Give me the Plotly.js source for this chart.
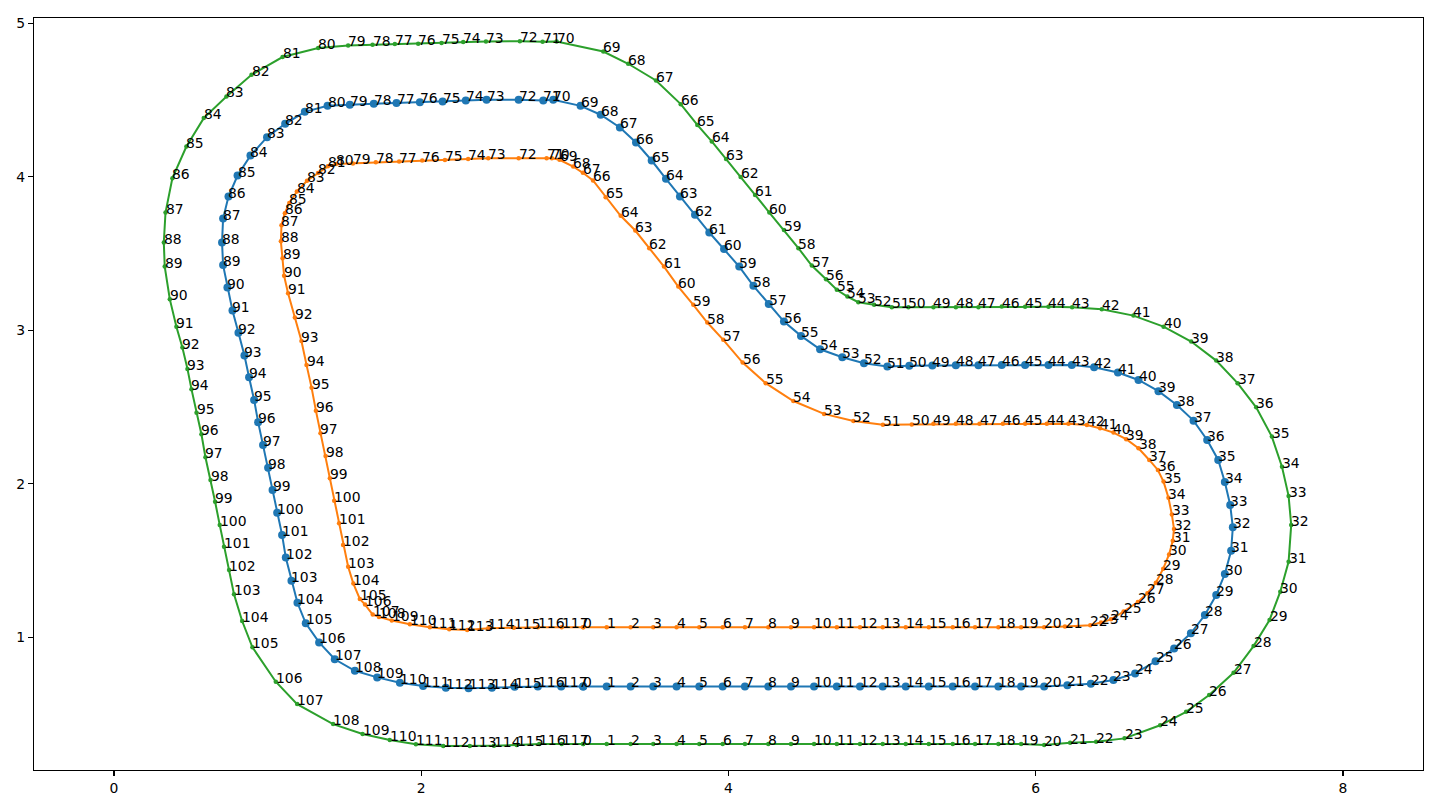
<!DOCTYPE html>
<html><head><meta charset="utf-8">
<script src="https://cdn.plot.ly/plotly-3.0.1.min.js"></script>
<style>body{margin:0;background:#fff}</style>
</head><body><div id="chart" style="width:1440px;height:809px"></div>
<script>
// centre line (blue)
const blueX = [3.054,3.207,3.363,3.510,3.662,3.810,3.962,4.107,4.259,4.407,4.557,4.705,4.856,5.004,5.154,5.304,5.460,5.605,5.757,5.905,
6.055,6.206,6.359,6.506,6.647,6.780,6.901,7.010,7.101,7.175,
7.231,7.272,7.283,7.266,7.231,7.188,7.116,7.027,6.919,6.799,
6.669,6.535,6.380,6.235,6.083,5.931,5.779,5.627,5.480,5.327,
5.177,5.034,4.882,4.741,4.596,4.472,4.361,4.262,4.162,4.070,
3.971,3.875,3.782,3.684,3.593,3.500,3.398,3.293,3.168,3.037,
2.859,2.794,2.634,2.425,2.290,2.139,1.991,1.839,1.691,1.535,
1.390,1.242,1.114,0.996,0.888,0.804,0.745,0.710,0.703,0.710,
0.738,0.771,0.810,0.849,0.879,0.912,0.938,0.970,1.003,1.032,
1.062,1.094,1.118,1.155,1.194,1.248,1.335,1.437,1.568,1.713,
1.861,2.012,2.160,2.308,2.460,2.608,2.759,2.911];
const blueY = [0.680,0.680,0.680,0.680,0.680,0.680,0.680,0.680,0.680,0.680,0.680,0.680,0.680,0.680,0.680,0.680,0.680,0.680,0.680,0.680,
0.680,0.688,0.698,0.722,0.765,0.844,0.928,1.026,1.145,1.276,
1.412,1.564,1.717,1.862,2.012,2.155,2.285,2.411,2.513,2.603,
2.676,2.724,2.759,2.774,2.774,2.774,2.774,2.772,2.772,2.770,
2.768,2.763,2.785,2.824,2.876,2.963,3.056,3.171,3.289,3.414,
3.528,3.636,3.751,3.870,3.986,4.105,4.222,4.320,4.403,4.461,
4.500,4.496,4.500,4.500,4.496,4.489,4.485,4.479,4.474,4.468,
4.461,4.422,4.344,4.257,4.137,4.007,3.870,3.727,3.571,3.424,
3.278,3.128,2.984,2.835,2.694,2.546,2.401,2.253,2.105,1.960,
1.812,1.667,1.519,1.369,1.225,1.091,0.967,0.857,0.782,0.739,
0.704,0.683,0.672,0.668,0.672,0.678,0.680,0.680];

// inner boundary (orange)
const orangeX = [3.054,3.207,3.363,3.510,3.662,3.810,3.962,4.107,4.259,4.407,4.557,4.705,4.856,5.004,5.154,5.304,5.460,5.605,5.757,5.905,
6.055,6.190,6.355,6.425,6.490,6.572,6.665,6.727,6.782,6.830,
6.868,6.892,6.900,6.886,6.864,6.832,6.795,6.739,6.669,6.589,
6.506,6.419,6.333,6.213,6.072,5.931,5.786,5.634,5.480,5.334,
5.193,5.005,4.813,4.622,4.422,4.242,4.092,3.966,3.862,3.771,
3.673,3.580,3.484,3.393,3.298,3.200,3.118,3.052,2.989,2.900,
2.850,2.816,2.634,2.436,2.305,2.154,2.006,1.856,1.704,1.555,
1.445,1.392,1.328,1.256,1.190,1.141,1.112,1.090,1.086,1.097,
1.107,1.133,1.177,1.220,1.253,1.286,1.314,1.344,1.377,1.405,
1.433,1.465,1.491,1.524,1.558,1.600,1.634,1.684,1.725,1.808,
1.926,2.056,2.182,2.299,2.436,2.603,2.759,2.914];
const orangeY = [1.065,1.065,1.065,1.065,1.065,1.065,1.065,1.065,1.065,1.065,1.065,1.065,1.065,1.065,1.065,1.065,1.065,1.065,1.065,1.065,
1.065,1.070,1.078,1.096,1.117,1.168,1.230,1.287,1.355,1.447,
1.540,1.629,1.706,1.800,1.909,2.014,2.090,2.155,2.231,2.290,
2.333,2.361,2.383,2.390,2.390,2.390,2.390,2.390,2.390,2.390,
2.386,2.385,2.409,2.455,2.539,2.655,2.789,2.937,3.050,3.165,
3.284,3.414,3.534,3.649,3.745,3.866,3.975,4.025,4.066,4.110,
4.120,4.120,4.120,4.120,4.114,4.109,4.105,4.098,4.094,4.086,
4.082,4.067,4.024,3.973,3.903,3.828,3.762,3.684,3.580,3.469,
3.354,3.241,3.082,2.930,2.774,2.626,2.476,2.329,2.181,2.036,
1.890,1.743,1.601,1.460,1.350,1.250,1.213,1.148,1.133,1.110,
1.085,1.065,1.052,1.048,1.059,1.063,1.065,1.065];

// outer boundary (green)
const greenX = [3.054,3.207,3.363,3.510,3.662,3.810,3.962,4.107,4.259,4.407,4.557,4.705,4.856,5.004,5.154,5.304,5.460,5.605,5.757,5.905,
6.055,6.224,6.393,6.578,6.810,6.979,7.129,7.288,7.418,7.522,
7.592,7.646,7.663,7.646,7.603,7.537,7.435,7.314,7.175,7.012,
6.832,6.636,6.430,6.237,6.083,5.931,5.779,5.627,5.480,5.334,
5.171,5.063,4.948,4.845,4.774,4.705,4.635,4.542,4.455,4.361,
4.266,4.173,4.079,3.984,3.891,3.797,3.689,3.528,3.347,3.185,
2.881,2.790,2.642,2.421,2.273,2.132,1.980,1.828,1.683,1.524,
1.329,1.097,0.895,0.732,0.584,0.471,0.380,0.335,0.324,0.330,
0.363,0.406,0.445,0.478,0.504,0.537,0.569,0.595,0.628,0.658,
0.688,0.716,0.749,0.781,0.834,0.901,1.053,1.192,1.426,1.618,
1.795,1.965,2.143,2.316,2.473,2.621,2.768,2.914];
const greenY = [0.305,0.305,0.305,0.305,0.305,0.305,0.305,0.305,0.305,0.305,0.305,0.305,0.305,0.305,0.305,0.305,0.305,0.305,0.305,0.305,
0.298,0.313,0.320,0.342,0.427,0.515,0.624,0.769,0.943,1.113,
1.297,1.492,1.732,1.921,2.111,2.307,2.498,2.655,2.802,2.926,
3.023,3.095,3.137,3.150,3.152,3.152,3.154,3.150,3.150,3.150,
3.150,3.150,3.165,3.182,3.219,3.263,3.332,3.421,3.534,3.653,
3.766,3.881,3.997,4.114,4.229,4.337,4.472,4.626,4.735,4.815,
4.880,4.878,4.882,4.880,4.876,4.870,4.865,4.863,4.859,4.854,
4.837,4.779,4.663,4.522,4.381,4.196,3.990,3.766,3.571,3.414,
3.202,3.023,2.887,2.748,2.616,2.463,2.322,2.173,2.025,1.883,
1.732,1.590,1.438,1.280,1.106,0.935,0.711,0.565,0.435,0.370,
0.331,0.303,0.292,0.292,0.294,0.298,0.305,0.305];

const xTicks = [0, 2, 4, 6, 8];
const yTicks = [1, 2, 3, 4, 5];

function closed(a) { return a.concat([a[0]]); }

const series = [
  {x: blueX, y: blueY, color: '#1f77b4', size: 8},
  {x: orangeX, y: orangeY, color: '#ff7f0e', size: 4.5},
  {x: greenX, y: greenY, color: '#2ca02c', size: 4.5}
];

const traces = series.map(s => ({
  type: 'scatter', mode: 'lines+markers',
  x: closed(s.x), y: closed(s.y),
  line: {color: s.color, width: 2},
  marker: {color: s.color, size: s.size},
  hoverinfo: 'skip', showlegend: false
}));

const annotations = [];
series.forEach(s => {
  s.x.forEach((xv, i) => {
    annotations.push({
      x: xv, y: s.y[i], text: String(i),
      xanchor: 'left', yanchor: 'bottom', showarrow: false,
      borderpad: 0, borderwidth: 0,
      xshift: 0, yshift: -4,
      font: {family: 'DejaVu Sans', size: 13.9, color: '#000'}
    });
  });
});

const axisCommon = {
  showgrid: false, zeroline: false, showline: true, mirror: true,
  linecolor: '#000', linewidth: 1.1,
  ticks: 'outside', ticklen: 5, tickwidth: 1.1, tickcolor: '#000',
  tickfont: {family: 'DejaVu Sans', size: 13.9, color: '#000'}
};

const layout = {
  width: 1440, height: 809, autosize: false,
  margin: {l: 34, r: 17, t: 18, b: 39, pad: 0},
  paper_bgcolor: '#fff', plot_bgcolor: '#fff',
  xaxis: Object.assign({}, axisCommon, {range: [-0.521, 8.521], tickvals: xTicks, ticktext: xTicks.map(String)}),
  yaxis: Object.assign({}, axisCommon, {range: [0.136, 5.033], tickvals: yTicks, ticktext: yTicks.map(String)}),
  annotations: annotations,
  showlegend: false
};

Plotly.newPlot('chart', traces, layout, {displayModeBar: false, staticPlot: true});
</script>
</body></html>
